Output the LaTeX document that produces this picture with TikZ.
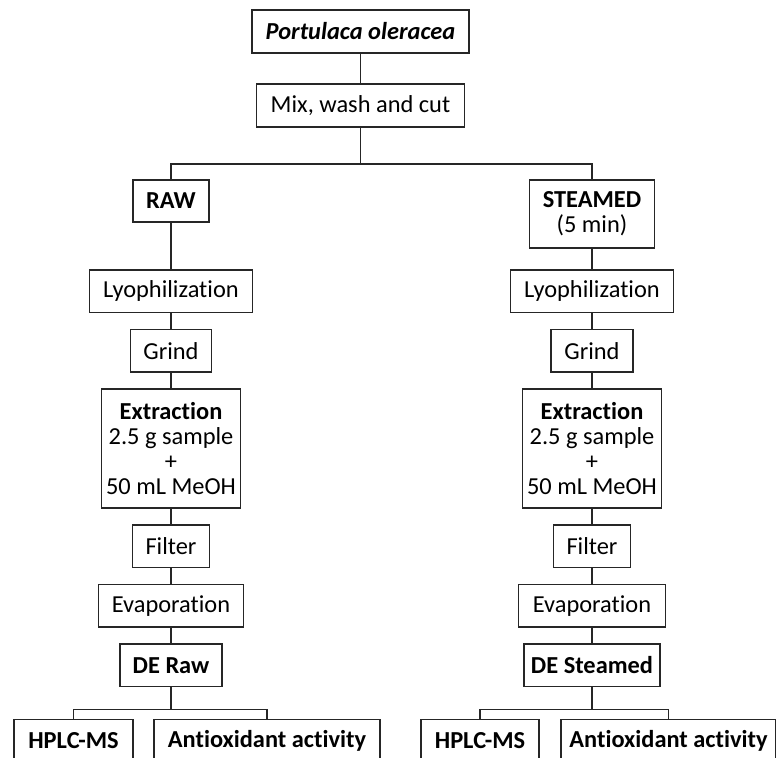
\documentclass[tikz,border=0pt]{standalone}
\usepackage{fontspec}
\setmainfont{Carlito}[Ligatures=NoCommon]
\usetikzlibrary{positioning}

\begin{document}
\begin{tikzpicture}[every node/.style={font=\fontsize{12.2}{12.5}\selectfont}, box/.style={draw=black!85, align=center, inner sep=0pt, outer sep=0pt, minimum height=21.25pt}, line width=0.65pt, draw=black!85, node distance=8.5pt]
		\useasboundingbox (0,0) rectangle (388pt,-379pt);
		\node[box, minimum width=108.5pt, minimum height=21.5pt] (plant) at (180.25pt,-15.75pt) {\textbf{\textit{Portulaca oleracea}}};
		\node[box, minimum width=104pt, minimum height=21.5pt, below=15.5pt of plant] (mix) {Mix, wash and cut};
		\coordinate[below=18.5pt of mix] (split);
		% raw branch
		\node[box, minimum width=38pt, minimum height=21pt, anchor=north] (raw) at (85.5pt,-90pt) {\textbf{RAW}};
		\node[box, minimum width=81.5pt, below=24pt of raw] (lyoR) {Lyophilization};
		\node[box, minimum width=40.5pt, below=of lyoR] (grindR) {Grind};
		\node[box, minimum width=69.5pt, minimum height=59.5pt, below=of grindR] (extR) {\textbf{Extraction}\\2.5 g sample\\+\\50 mL MeOH};
		\node[box, minimum width=38.5pt, below=of extR] (filtR) {Filter};
		\node[box, minimum width=72.5pt, below=of filtR] (evapR) {Evaporation};
		\node[box, minimum width=51pt, below=of evapR] (deR) {\textbf{DE Raw}};
		\coordinate[below=11.5pt of deR] (splitR);
		\node[box, minimum width=59.5pt, below=16.5pt of deR, xshift=-48.75pt] (hplcR) {\textbf{HPLC-MS}};
		\node[box, minimum width=113pt, below=16.5pt of deR, xshift=48pt] (antiR) {\textbf{Antioxidant activity}};
		% steamed branch
		\node[box, minimum width=62.5pt, minimum height=34pt, anchor=north] (steam) at (296pt,-90pt) {\textbf{STEAMED}\\(5 min)};
		\node[box, minimum width=81.5pt, below=11pt of steam] (lyoS) {Lyophilization};
		\node[box, minimum width=41pt, below=of lyoS] (grindS) {Grind};
		\node[box, minimum width=69.5pt, minimum height=59.5pt, below=of grindS] (extS) {\textbf{Extraction}\\2.5 g sample\\+\\50 mL MeOH};
		\node[box, minimum width=38.5pt, below=of extS] (filtS) {Filter};
		\node[box, minimum width=73.5pt, below=of filtS] (evapS) {Evaporation};
		\node[box, minimum width=68pt, below=of evapS] (deS) {\textbf{DE Steamed}};
		\coordinate[below=11.5pt of deS] (splitS);
		\node[box, minimum width=59pt, below=16.5pt of deS, xshift=-56pt] (hplcS) {\textbf{HPLC-MS}};
		\node[box, minimum width=107.5pt, below=16.5pt of deS, xshift=38.25pt] (antiS) {\textbf{Antioxidant activity}};
		\path
		(plant) edge (mix)
		(raw) edge (lyoR)
		(lyoR) edge (grindR)
		(grindR) edge (extR)
		(extR) edge (filtR)
		(filtR) edge (evapR)
		(evapR) edge (deR)
		(steam) edge (lyoS)
		(lyoS) edge (grindS)
		(grindS) edge (extS)
		(extS) edge (filtS)
		(filtS) edge (evapS)
		(evapS) edge (deS);
		\draw (mix) -- (split) -| (raw);
		\draw (split) -| (steam);
		\draw (deR) -- (splitR) -| (hplcR);
		\draw (splitR) -| (antiR);
		\draw (deS) -- (splitS) -| (hplcS);
		\draw (splitS) -| (antiS);
		
		\end{tikzpicture}
\end{document}
